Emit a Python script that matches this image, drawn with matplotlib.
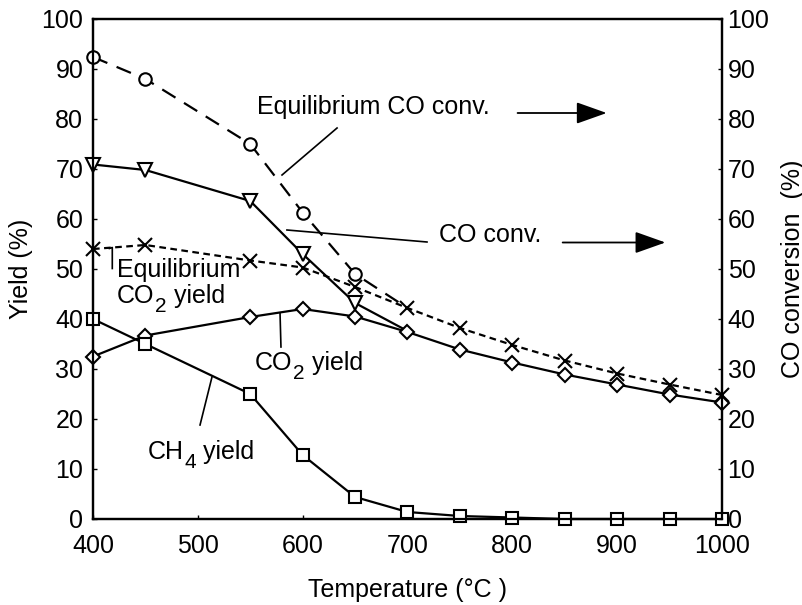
import matplotlib
matplotlib.use("Agg")
import matplotlib.pyplot as plt

plt.rcParams['font.family'] = ['Liberation Sans', 'DejaVu Sans']

temp = [400, 450, 550, 600, 650, 700, 750, 800, 850, 900, 950, 1000]
co_conv_T = [400, 450, 550, 600, 650, 700]
co_conv = [70.9, 69.8, 63.6, 53.0, 43.2, 37.6]
eq_co_conv_T = [400, 450, 550, 600, 650, 700]
eq_co_conv = [92.4, 88.0, 75.0, 61.3, 49.0, 42.2]
eq_co2_yield = [54.0, 54.8, 51.7, 50.3, 46.4, 42.2, 38.2, 34.8, 31.7, 29.1, 26.9, 24.8]
co2_yield = [32.5, 36.7, 40.4, 42.0, 40.5, 37.4, 33.9, 31.3, 28.9, 26.9, 24.9, 23.3]
ch4_yield = [40.0, 35.0, 25.0, 12.8, 4.4, 1.4, 0.6, 0.3, 0.0, 0.0, 0.0, 0.0]

xticks = [400, 500, 600, 700, 800, 900, 1000]
yticks = [0, 10, 20, 30, 40, 50, 60, 70, 80, 90, 100]

FS = 18
SUB = 15
fig = plt.figure(figsize=(8.03, 6.05), dpi=100)
ax = fig.add_axes([93/803, 1-519/605, 629/803, 500/605])

mk = dict(markeredgecolor='black', markeredgewidth=1.5, color='black', lw=1.6, clip_on=False)

ax.plot(eq_co_conv_T, eq_co_conv, linestyle=(0, (7, 4.5)), marker='o', markersize=9,
        markerfacecolor='white', markevery=[0, 1, 2, 3, 4], zorder=3, **mk)
ax.plot(temp, eq_co2_yield, linestyle=(0, (3, 2)), marker='x', markersize=10,
        zorder=4, **mk)
ax.plot(co_conv_T, co_conv, linestyle='-', marker='v', markersize=10,
        markerfacecolor='white', markevery=[0, 1, 2, 3, 4], zorder=3, **mk)
ax.plot(temp, co2_yield, linestyle='-', marker='D', markersize=7,
        markerfacecolor='white', zorder=5, **mk)
ax.plot(temp, ch4_yield, linestyle='-', marker='s', markersize=9,
        markerfacecolor='white', zorder=5, **mk)

ax.set_xlim(400, 1000)
ax.set_ylim(0, 100)
ax.set_xticks(xticks)
ax.set_yticks(yticks)
ax.tick_params(axis='both', direction='in', length=3, width=1, labelsize=FS)
ax.tick_params(axis='x', pad=11)
ax.tick_params(axis='y', pad=7)
for s in ax.spines.values():
    s.set_linewidth(1.6)

ax2 = ax.twinx()
ax2.set_ylim(0, 100)
ax2.set_yticks(yticks)
ax2.tick_params(axis='y', direction='in', length=3, width=1, labelsize=FS, pad=4)
for s in ax2.spines.values():
    s.set_linewidth(1.6)

ax.set_xlabel('Temperature (°C )', fontsize=FS, labelpad=14)
ax.set_ylabel('Yield (%)', fontsize=FS, labelpad=6)
ax2.set_ylabel('CO conversion  (%)', fontsize=FS, labelpad=8)


def sub_text(x, y, pre, sub, post):
    t1 = ax.text(x, y, pre, fontsize=FS, va='bottom', ha='left')
    t2 = ax.annotate(sub, xy=(1, 0), xycoords=t1, xytext=(0.5, -6), textcoords='offset points',
                     fontsize=SUB, va='bottom', ha='left')
    ax.annotate(post, xy=(1, 0), xycoords=t2, xytext=(0, 6), textcoords='offset points',
                fontsize=FS, va='bottom', ha='left')


arrow = dict(arrowstyle='-|>,head_length=0.9,head_width=0.32', mutation_scale=21,
             color='black', lw=1.3, shrinkA=0, shrinkB=0)

ax.text(556, 82.4, 'Equilibrium CO conv.', fontsize=FS, va='center', ha='left')
ax.plot([632.8, 580.3], [78.2, 68.8], color='black', lw=1.2)
ax.annotate('', xy=(890, 81.2), xytext=(805, 81.2), arrowprops=arrow)

ax.text(730, 56.8, 'CO conv.', fontsize=FS, va='center', ha='left')
ax.plot([585, 718.6], [57.8, 55.4], color='black', lw=1.2)
ax.annotate('', xy=(946, 55.3), xytext=(848, 55.3), arrowprops=arrow)

ax.text(423, 49.8, 'Equilibrium', fontsize=FS, va='center', ha='left')
sub_text(423, 42.2, 'CO', '2', ' yield')
ax.plot([415.6, 418.4, 418.4], [54.1, 54.3, 50.1], color='black', lw=1.2)

sub_text(554.5, 28.8, 'CO', '2', ' yield')
ax.plot([578.4, 579.3], [41.2, 34.4], color='black', lw=1.2)

sub_text(452.5, 11.0, 'CH', '4', ' yield')
ax.plot([513.5, 502.1], [28.4, 18.8], color='black', lw=1.2)

fig.savefig('out.png', dpi=100)
